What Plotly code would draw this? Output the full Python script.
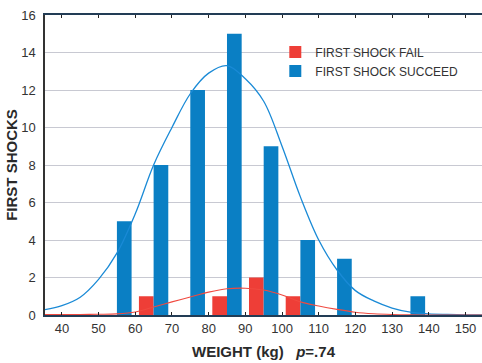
import plotly.graph_objects as go

# Bin centres (kg)
bins = [55, 65, 75, 85, 95, 105, 115, 125, 135]
fail_counts = [0, 1, 0, 1, 2, 1, 0, 0, 0]
succeed_counts = [5, 8, 12, 15, 9, 4, 3, 0, 1]

# Fitted distribution curves
curve_x = [35, 40, 45, 50, 55, 60, 65, 70, 75, 80, 85, 90, 95, 100, 105, 110,
           115, 120, 125, 130, 135, 140, 145, 150, 155]
succeed_curve = [0.27, 0.5, 0.95, 1.9, 3.3, 5.4, 8.0, 10.0, 11.8, 12.9, 13.3, 12.6,
                 11.4, 9.0, 6.3, 4.0, 2.4, 1.3, 0.75, 0.37, 0.15, 0.06, 0.03, 0.01, 0.0]
fail_curve = [0.02, 0.02, 0.03, 0.04, 0.06, 0.16, 0.43, 0.7, 0.96, 1.22, 1.4, 1.43,
              1.33, 1.07, 0.7, 0.48, 0.3, 0.15, 0.07, 0.03, 0.01, 0.0, 0.0, 0.0, 0.0]

x_ticks = [40, 50, 60, 70, 80, 90, 100, 110, 120, 130, 140, 150]
y_ticks = [0, 2, 4, 6, 8, 10, 12, 14, 16]

RED = "#ee3e37"
BLUE = "#0a7fc4"

fig = go.Figure()
fig.add_trace(go.Bar(x=bins, y=fail_counts, name="FIRST SHOCK FAIL",
                     marker=dict(color=RED, line=dict(width=0))))
fig.add_trace(go.Bar(x=bins, y=succeed_counts, name="FIRST SHOCK SUCCEED",
                     marker=dict(color=BLUE, line=dict(width=0))))
fig.add_trace(go.Scatter(x=curve_x, y=succeed_curve, mode="lines", showlegend=False,
                         line=dict(color="#1a8ad6", width=1.3, shape="spline")))
fig.add_trace(go.Scatter(x=curve_x, y=fail_curve, mode="lines", showlegend=False,
                         line=dict(color="#f04a40", width=1.1, shape="spline")))

fig.update_layout(
    width=482, height=363,
    margin=dict(l=45, r=0, t=15, b=48),
    paper_bgcolor="white", plot_bgcolor="white",
    barmode="group", bargap=0.2, bargroupgap=0,
    font=dict(family="Liberation Sans, Arial, sans-serif", size=12, color="#333333"),
    legend=dict(x=0.527, y=0.925, xanchor="left", yanchor="top",
                bgcolor="rgba(0,0,0,0)", font=dict(size=12, color="#333333"),
                itemwidth=30),
    xaxis=dict(
        range=[35.4, 154.5], tickvals=x_ticks, ticktext=[str(v) for v in x_ticks],
        ticks="inside", ticklen=3, tickwidth=1, tickcolor="#222222",
        showline=True, linecolor="#223c55", linewidth=2, mirror="ticks",
        showgrid=False, zeroline=False,
        title=dict(text="<b>WEIGHT (kg)</b>   <b><i>p</i>=.74</b>",
                   font=dict(size=15, color="#2a2a2a"), standoff=12),
        tickfont=dict(size=13, color="#333333"),
    ),
    yaxis=dict(
        range=[0, 16], tickvals=y_ticks,
        ticks="", showline=True, linecolor="#333333", linewidth=1.5,
        showgrid=True, gridcolor="#c8c9d2", gridwidth=1, zeroline=False,
        title=dict(text="<b>FIRST SHOCKS</b>", font=dict(size=15, color="#2a2a2a"),
                   standoff=0),
        tickfont=dict(size=13, color="#333333"), ticklabelstandoff=5,
    ),
)

fig.write_html("out.html")
